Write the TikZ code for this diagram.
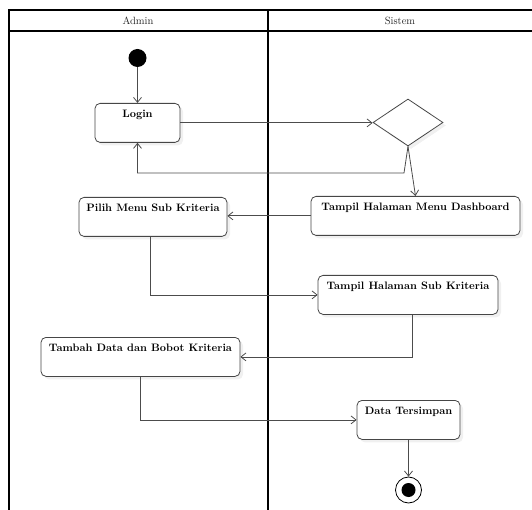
\documentclass[tikz,border=0pt]{standalone}
\usetikzlibrary{shapes.geometric,arrows.meta,shadows}
\begin{document}
\begin{tikzpicture}[x=1pt,y=-1pt,
  lane/.style={draw=black,line width=1.6pt},
  act/.style={draw=gray!55!black,thick,rounded corners=5pt,fill=white,
    anchor=north,minimum height=39pt,inner ysep=5pt,text height=9pt,text depth=19pt,
    font=\fontsize{10.8}{13}\selectfont\bfseries,
    drop shadow={opacity=0.12,shadow xshift=3pt,shadow yshift=-3pt}},
  flow/.style={draw=gray!60!black,thick,-{Straight Barb[length=5pt,width=8pt]}}]
\useasboundingbox (0,0) rectangle (532,510);
% swimlanes
\draw[lane] (9,510) -- (9,10) -- (532,10);
\draw[lane] (9,31) -- (532,31);
\draw[lane] (268,10) -- (268,510);
\node[font=\fontsize{10.5}{12}\selectfont,text=black!85] (admin) at (138,20.5) {Admin};
\node[font=\fontsize{10.5}{12}\selectfont,text=black!85] (sistem) at (400,20.5) {Sistem};
% states
\node[circle,fill=black,minimum size=18pt,inner sep=0pt] (start) at (137.5,58) {};
\node[act,minimum width=85pt] (login) at (137.5,103) {Login};
\node[diamond,draw=gray!55!black,thick,fill=white,minimum width=70pt,minimum height=47pt,inner sep=0pt,
  drop shadow={opacity=0.12,shadow xshift=3pt,shadow yshift=-3pt}] (dec) at (408,122.5) {};
\node[act,minimum width=209pt] (dash) at (415.5,196) {Tampil Halaman Menu Dashboard};
\node[act,minimum width=148pt] (pilih) at (153,197) {Pilih Menu Sub Kriteria};
\node[act,minimum width=180pt] (sub) at (408,275) {Tampil Halaman Sub Kriteria};
\node[act,minimum width=199pt] (tambah) at (140.5,337) {Tambah Data dan Bobot Kriteria};
\node[act,minimum width=103pt] (data) at (408.5,400) {Data Tersimpan};
\node[circle,draw=black,thick,fill=white,minimum size=26pt,inner sep=0pt] (stop) at (408.5,490) {};
\fill[black] (stop) circle (7);
% flows
\coordinate (back) at (404,173);
\draw[flow] (start) -- (login.north);
\draw[flow] (login.east) -- (login.east -| dec.west);
\draw[flow] (dec.south) -- (back) -| (login.south);
\draw[flow] (dec.south) -- (dash.north);
\draw[flow] (dash.west) -- (dash.west -| pilih.east);
\draw[flow] ([xshift=-3pt]pilih.south) |- (sub.west);
\draw[flow] ([xshift=4pt]sub.south) |- (tambah.east);
\draw[flow] (tambah.south) |- (data.west);
\draw[flow] (data.south) -- (stop.north);
\end{tikzpicture}
\end{document}
